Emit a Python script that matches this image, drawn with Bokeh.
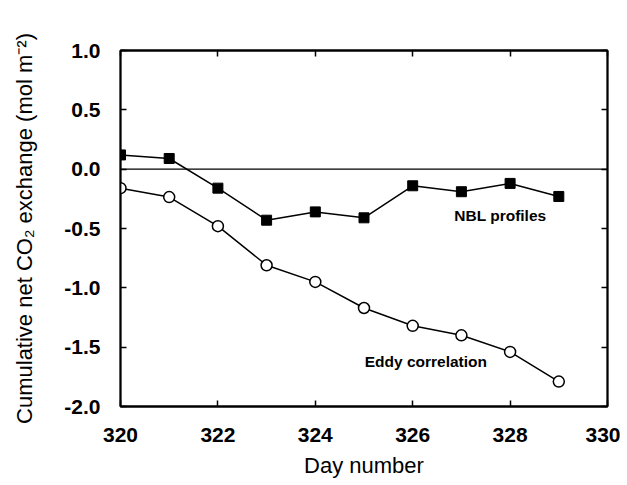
from bokeh.plotting import figure
from bokeh.models import (FixedTicker, LinearAxis, Range1d, Span, Label,
                          NumeralTickFormatter, CustomJSTickFormatter)
from bokeh.embed import file_html
from bokeh.resources import INLINE

days = [320, 321, 322, 323, 324, 325, 326, 327, 328, 329]
nbl_profiles = [0.12, 0.09, -0.16, -0.43, -0.36, -0.41, -0.14, -0.19, -0.12, -0.23]
eddy_correlation = [-0.16, -0.235, -0.48, -0.81, -0.95, -1.17, -1.32, -1.40, -1.54, -1.79]
x_ticks = [320, 322, 324, 326, 328, 330]
y_ticks = [-2.0, -1.5, -1.0, -0.5, 0.0, 0.5, 1.0]

FONT = "Liberation Sans"

p = figure(width=620, height=485, output_backend="svg", toolbar_location=None,
           x_range=Range1d(320, 330), y_range=Range1d(-2.0, 1.0),
           min_border_left=120, min_border_right=13, min_border_top=50, min_border_bottom=79)
p.background_fill_color = "white"
p.border_fill_color = "white"
p.outline_line_color = "black"
p.outline_line_width = 1.8
p.xgrid.visible = False
p.ygrid.visible = False

def style_axis(ax, ticks, show_labels=True):
    ax.ticker = FixedTicker(ticks=ticks)
    ax.major_tick_in = 6
    ax.major_tick_out = 0
    ax.minor_tick_line_color = None
    ax.axis_line_color = "black"
    ax.axis_line_width = 1.8
    ax.major_tick_line_width = 1.5
    ax.major_label_text_font = FONT
    ax.major_label_text_font_size = "21px"
    ax.major_label_text_font_style = "bold"
    ax.major_label_text_color = "black"
    ax.axis_label_text_font = FONT
    ax.axis_label_text_font_size = "22px"
    ax.axis_label_text_font_style = "normal"
    ax.axis_label_text_color = "black"
    if not show_labels:
        ax.formatter = CustomJSTickFormatter(code="return '';")
        ax.major_label_standoff = 0

xa = p.xaxis[0]
style_axis(xa, x_ticks)
xa.axis_label = "Day number"
xa.major_label_standoff = 21
xa.axis_label_standoff = 8

ya = p.yaxis[0]
style_axis(ya, y_ticks)
ya.formatter = NumeralTickFormatter(format="0.0")
ya.axis_label = "Cumulative net CO\u2082 exchange (mol m\u207b\u00b2)"
ya.major_label_standoff = 20
ya.axis_label_standoff = 24

top = LinearAxis()
style_axis(top, x_ticks, show_labels=False)
p.add_layout(top, "above")
right = LinearAxis()
style_axis(right, y_ticks, show_labels=False)
p.add_layout(right, "right")

p.add_layout(Span(location=0, dimension="width", line_color="black", line_width=1.3))

p.line(days, nbl_profiles, line_color="black", line_width=1.5)
p.scatter(days, nbl_profiles, marker="square", size=10, fill_color="black", line_color="black")

p.line(days, eddy_correlation, line_color="black", line_width=1.5)
p.scatter(days, eddy_correlation, marker="circle", size=11, fill_color="white",
          line_color="black", line_width=1.5)

p.add_layout(Label(x=327.8, y=-0.39, text="NBL profiles", text_font=FONT,
                   text_font_size="15.5px", text_font_style="bold", text_align="center",
                   text_baseline="middle", text_color="black"))
p.add_layout(Label(x=326.27, y=-1.62, text="Eddy correlation", text_font=FONT,
                   text_font_size="15.5px", text_font_style="bold", text_align="center",
                   text_baseline="middle", text_color="black"))

open("out.html", "w").write(file_html(p, INLINE))
